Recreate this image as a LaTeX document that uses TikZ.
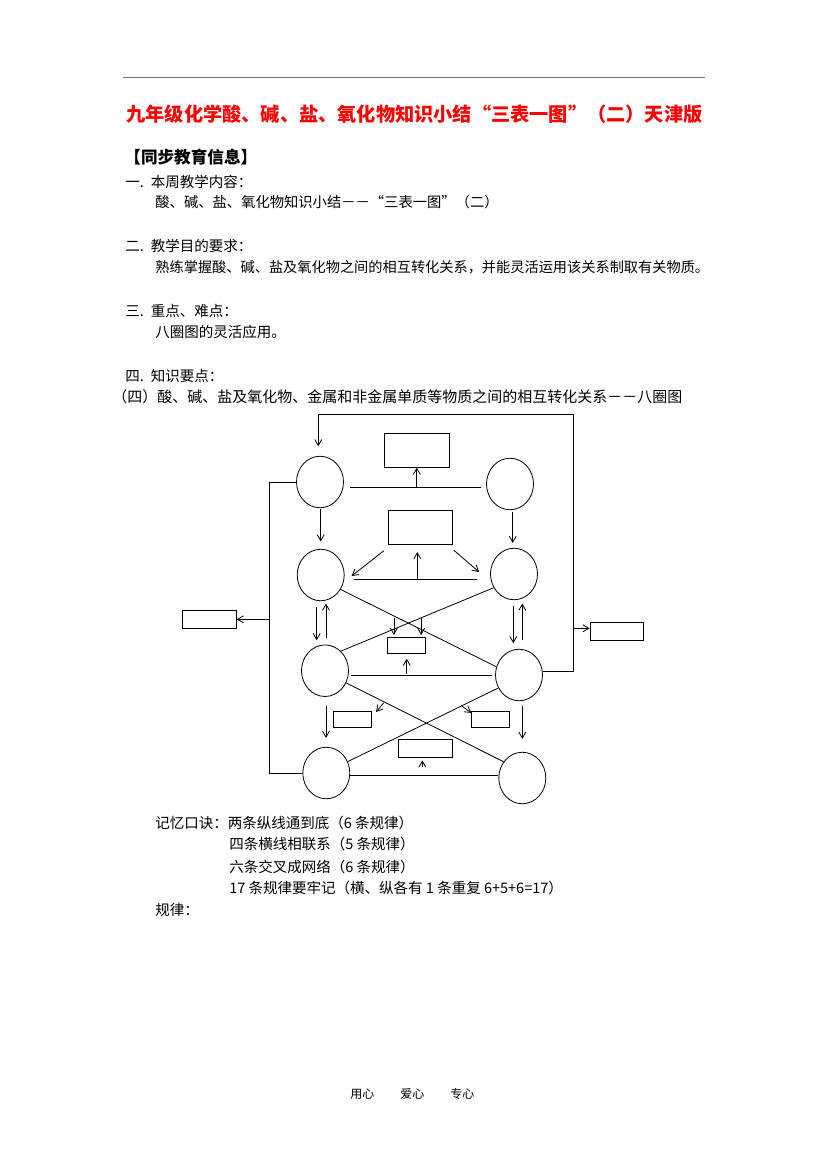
\documentclass[tikz,border=0pt]{standalone}
\usepackage{fontspec}
\setmainfont{Noto Sans CJK SC}
\usetikzlibrary{shapes.geometric,arrows.meta,calc}
\begin{document}
\begin{tikzpicture}[x=1pt,y=-1pt, line width=0.8pt,
 circ/.style={draw, ellipse, minimum width=47pt, minimum height=51.5pt, inner sep=0pt},
 bx/.style={draw, rectangle, inner sep=0pt},
 arr/.style={-{Straight Barb[length=6pt,width=7pt]}},
 txt/.style={anchor=west, inner sep=0pt, font=\fontsize{14.5}{16}\selectfont},
 foot/.style={anchor=west, inner sep=0pt, font=\fontsize{12}{14}\selectfont}]
\fill[white] (0,0) rectangle (827,1170);
\useasboundingbox (0,0) rectangle (827,1170);
% header rule
\draw[black!55, line width=1.3pt] (123,77.5) -- (705,77.5);
% texts
\node[txt, text=red, font=\bfseries\fontsize{19.2}{21}\selectfont] (title) at (126,114) {九年级化学酸、碱、盐、氧化物知识小结“三表一图”（二）天津版};
\node[txt, font=\bfseries\fontsize{16.6}{18}\selectfont] (head) at (124,157) {【同步教育信息】};
\node[txt] (s1) at (125,181.7) {一.\hspace{7pt}本周教学内容：};
\node[txt, font=\fontsize{14.3}{16}\selectfont] (s1b) at (155,202) {酸、碱、盐、氧化物知识小结－－“三表一图”（二）};
\node[txt] (s2) at (125,246) {二.\hspace{7pt}教学目的要求：};
\node[txt, font=\fontsize{14.2}{16}\selectfont] (s2b) at (155,267) {熟练掌握酸、碱、盐及氧化物之间的相互转化关系，并能灵活运用该关系制取有关物质。};
\node[txt] (s3) at (125,311) {三.\hspace{7pt}重点、难点：};
\node[txt] (s3b) at (155,332) {八圈图的灵活应用。};
\node[txt] (s4) at (125,376) {四.\hspace{7pt}知识要点：};
\node[txt, font=\fontsize{15}{17}\selectfont] (s4b) at (112,397) {（四）酸、碱、盐及氧化物、金属和非金属单质等物质之间的相互转化关系－－八圈图};
\node[txt] (m1) at (155,823) {记忆口诀：两条纵线通到底（6 条规律）};
\node[txt] (m2) at (229,844) {四条横线相联系（5 条规律）};
\node[txt] (m3) at (229,866.5) {六条交叉成网络（6 条规律）};
\node[txt] (m4) at (229,888) {17 条规律要牢记（横、纵各有 1 条重复 6+5+6=17）};
\node[txt] (m5) at (155,910) {规律：};
\node[foot] (f1) at (350,1094) {用心};
\node[foot] (f2) at (400,1094) {爱心};
\node[foot] (f3) at (450,1094) {专心};
% circles
\node[circ] (c1) at (320,482) {};
\node[circ] (c2) at (510,484) {};
\node[circ] (c3) at (320.7,575) {};
\node[circ] (c4) at (514,574) {};
\node[circ] (c5) at (325,670.7) {};
\node[circ] (c6) at (519,675) {};
\node[circ] (c7) at (326.3,773) {};
\node[circ] (c8) at (522.3,778) {};
% boxes
\node[bx, minimum width=65pt, minimum height=34pt] (b1) at (416.8,450.3) {};
\node[bx, minimum width=64.4pt, minimum height=34pt] (b2) at (420.5,527.3) {};
\node[bx, minimum width=54pt, minimum height=18pt] (bl) at (209.3,619.3) {};
\node[bx, minimum width=53pt, minimum height=18pt] (br) at (616.5,631.3) {};
\node[bx, minimum width=38pt, minimum height=16pt] (bm) at (406.3,645.3) {};
\node[bx, minimum width=38pt, minimum height=16pt] (bll) at (352.3,719.3) {};
\node[bx, minimum width=38pt, minimum height=16pt] (blr) at (490.3,719.3) {};
\node[bx, minimum width=54.4pt, minimum height=18pt] (bb) at (425.5,748.3) {};
% row 1
\coordinate (h1a) at ($(c1.east)+(6,5)$);
\draw (h1a) -- ($(c2.west)+(-5,3)$);
\draw[arr] (b1.south |- h1a) -- (b1.south);
% left loop
\coordinate (lv) at (269.3,773);
\draw (c1.west) -| (lv) -- (c7.west);
\draw[arr] (lv |- bl.east) -- (bl.east);
% verticals row1 -> row2
\draw[arr] ($(c1.south)+(0.7,1)$) -- ($(c1.south)+(0.7,33.3)$);
\draw[arr] ($(c2.south)+(2.7,1.5)$) -- ($(c2.south)+(2.7,32.8)$);
% row 2
\draw ($(c3.east)+(9,4)$) -- ($(c4.west)+(-13,5)$);
\draw[arr] ($(b2.south)+(-3.2,34.7)$) -- ($(b2.south)+(-3.2,7.4)$);
\draw[arr] ($(b2.south west)+(-4,6)$) -- ($(c3.east)+(7,1)$);
\draw[arr] ($(b2.south east)+(0.6,5.4)$) -- ($(c4.west)+(-11,-2)$);
% crosses row2 -> row3
\draw (c3.-36) -- (c6.160);
\draw (c4.-146) -- (c5.51);
% double arrows
\draw[arr] ($(c3.south)+(-4,6)$) -- ($(c3.south)+(-4,39)$);
\draw[arr] ($(c5.north)+(1,-7)$) -- ($(c5.north)+(1,-41)$);
\draw[arr] ($(c4.south)+(-0.7,6)$) -- ($(c4.south)+(-0.7,43)$);
\draw[arr] ($(c6.north)+(3.3,-8.6)$) -- ($(c6.north)+(3.3,-45.3)$);
% middle box arrows
\draw[arr] ($(bm.north west)+(7,-19)$) -- ($(bm.north west)+(7,-2)$);
\draw[arr] ($(bm.north east)+(-4.6,-19)$) -- ($(bm.north east)+(-4.6,-2)$);
\draw[arr] ($(bm.south)+(0.4,20)$) -- ($(bm.south)+(0.4,5)$);
% row 3
\draw ($(c5.east)+(2.5,4.6)$) -- ($(c6.west)+(-3,0.3)$);
% crosses row3 -> row4
\draw (c5.-30) -- (c8.139);
\draw (c6.-148) -- (c7.28);
\draw[arr] ($(bll.north east)+(12,-8)$) -- ($(bll.north east)+(4.4,1)$);
\draw[arr] ($(blr.north west)+(-9.6,-5.3)$) -- ($(blr.north west)+(0.4,2)$);
% verticals row3 -> row4
\draw[arr] ($(c5.south)+(1,9)$) -- ($(c5.south)+(1,41)$);
\draw[arr] ($(c6.south)+(3.3,5.3)$) -- ($(c6.south)+(3.3,37.6)$);
% row 4
\draw ($(c7.east)+(0,2)$) -- ($(c8.west)+(0,-3)$);
\draw[arr] ($(bb.south)+(-3.2,9.4)$) -- ($(bb.south)+(-3.2,2.7)$);
% top loop
\coordinate (tr) at (573.3,414.3);
\draw[arr] ($(c6.east)+(0,-4)$) -| (tr) -| ($(c1.north)+(-1.7,-9.6)$);
\coordinate (brin) at ($(br.west)+(0,-3)$);
\draw[arr] (tr |- brin) -- (brin);
\end{tikzpicture}
\end{document}
